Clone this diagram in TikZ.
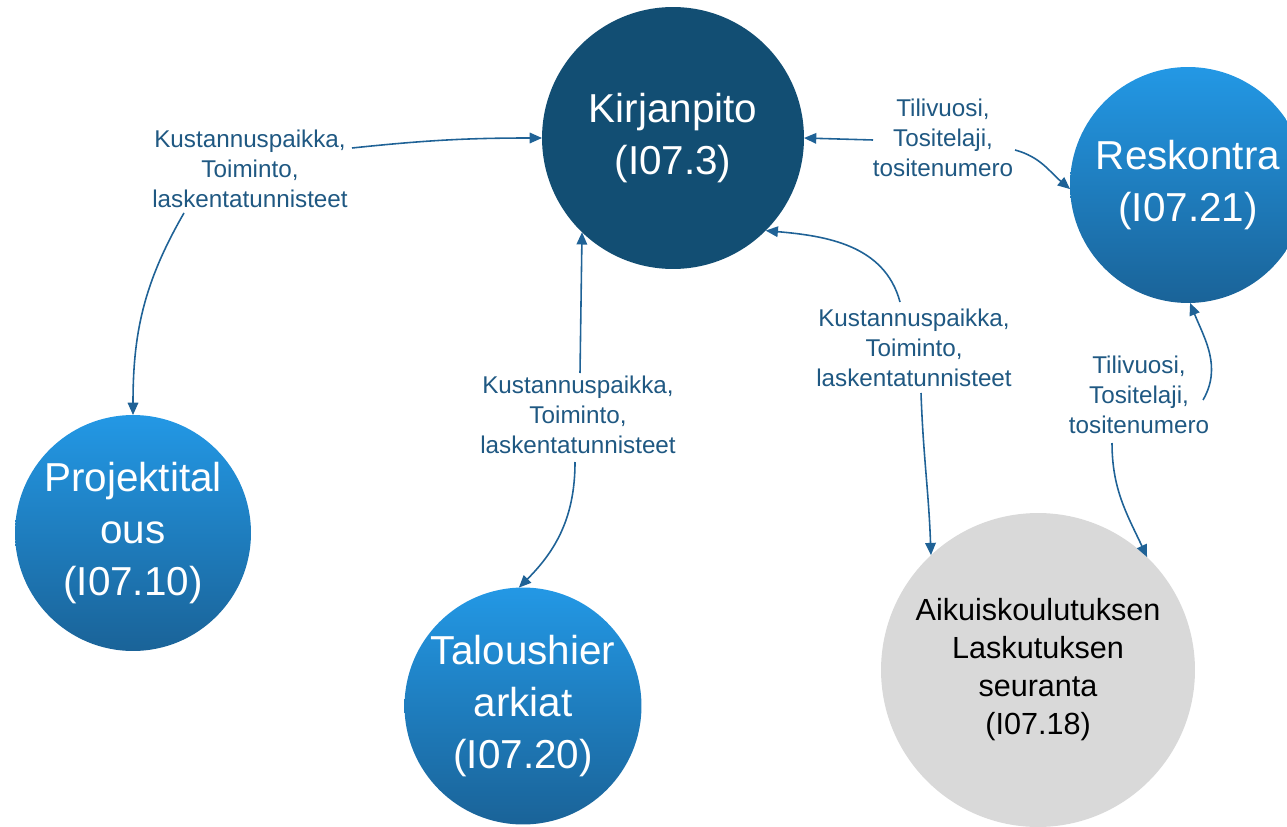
\documentclass[tikz,border=0pt]{standalone}
\usepackage{fontspec}
\setmainfont{Liberation Sans}
\usetikzlibrary{arrows.meta}
\definecolor{kirblue}{HTML}{124E73}
\definecolor{topblue}{HTML}{2398E5}
\definecolor{botblue}{HTML}{1A6398}
\definecolor{greyfill}{HTML}{D9D9D9}
\definecolor{linkcol}{HTML}{1F6296}
\definecolor{labcol}{HTML}{1F5882}
\tikzset{
  bigcirc/.style={circle, inner sep=0pt, outer sep=0pt, text=white, align=center,
    font=\fontsize{23pt}{29.6pt}\selectfont},
  bluecirc/.style={bigcirc, top color=topblue, bottom color=botblue, shading angle=0},
  darkcirc/.style={bigcirc, fill=kirblue},
  greycirc/.style={circle, inner sep=0pt, outer sep=0pt, fill=greyfill, text=black, align=center,
    font=\fontsize{17.4pt}{21.6pt}\selectfont},
  lab/.style={align=center, text=labcol, inner sep=0pt, font=\fontsize{13.8pt}{17pt}\selectfont},
  link/.style={draw=linkcol, line width=0.9pt, -{Triangle[length=7pt,width=6pt]}},
}
\begin{document}
\begin{tikzpicture}[x=0.02cm,y=0.02cm]
\useasboundingbox (0,0) rectangle (1287,826);
% circles
\node[darkcirc, minimum size=5.24cm] (kir) at (673,688) {Kirjanpito\\(I07.3)};
\node[bluecirc, minimum size=4.72cm] (res) at (1188,641) {Reskontra\\(I07.21)};
\node[bluecirc, minimum size=4.72cm] (proj) at (133,293) {Projektital\\ous\\(I07.10)};
\node[bluecirc, minimum size=4.74cm] (tal) at (523,120) {Taloushier\\arkiat\\(I07.20)};
\node[greycirc, minimum size=6.28cm] (aik) at (1038,156) {Aikuiskoulutuksen\\Laskutuksen\\seuranta\\(I07.18)};
% labels
\node[lab] (l1) at (250,657) {Kustannuspaikka,\\Toiminto,\\laskentatunnisteet};
\node[lab] (l2) at (943,688) {Tilivuosi,\\Tositelaji,\\tositenumero};
\node[lab] (l3) at (578,411) {Kustannuspaikka,\\Toiminto,\\laskentatunnisteet};
\node[lab] (l4) at (914,478) {Kustannuspaikka,\\Toiminto,\\laskentatunnisteet};
\node[lab] (l5) at (1139,431) {Tilivuosi,\\Tositelaji,\\tositenumero};
% connector ends at labels
\coordinate (c1a) at (352,678);
\coordinate (c1b) at (184,613);
\coordinate (c2a) at (873,686);
\coordinate (c2b) at (1015,676);
\coordinate (c3a) at (580,453);
\coordinate (c3b) at (575,364);
\coordinate (c4a) at (900,524);
\coordinate (c4b) at (921,433);
\coordinate (c5a) at (1203,426);
\coordinate (c5b) at (1112,383);
% connectors
\draw[link] (c1a) to[out=6,in=180] (kir.180);
\draw[link] (c1b) to[out=-120,in=90] (proj.90);
\draw[link] (c2a) -- (kir.0);
\draw[link] (c2b) to[out=-15,in=140] (res.182);
\draw[link] (c3a) -- (kir.-134);
\draw[link] (c3b) to[out=-90,in=45] (tal.92);
\draw[link] (c4a) to[out=105,in=-5] (kir.-45);
\draw[link] (c4b) to[out=-88,in=92] (aik.133.5);
\draw[link] (c5a) to[out=60,in=-68] (res.-89);
\draw[link] (c5b) to[out=-90,in=115] (aik.46);
\end{tikzpicture}
\end{document}
